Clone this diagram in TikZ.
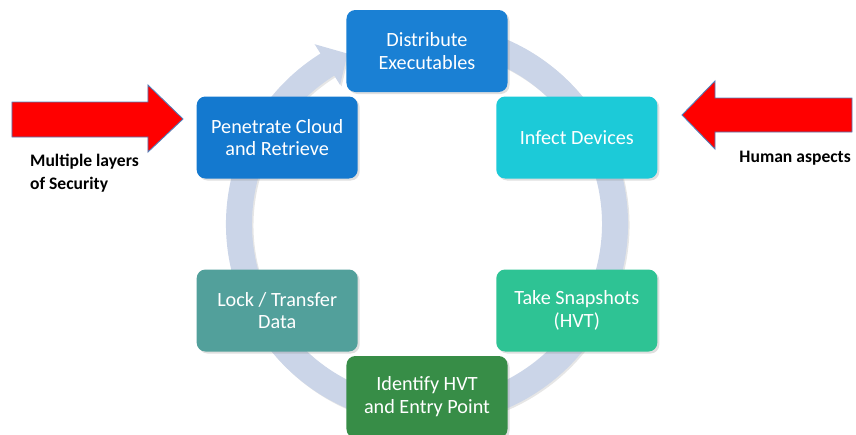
\documentclass[tikz,border=0pt]{standalone}
\usepackage{fontspec}
\setmainfont{Carlito}
\usetikzlibrary{positioning, shadows}
\definecolor{cyblue}{RGB}{26,128,212}
\definecolor{cyblue2}{RGB}{20,121,207}
\definecolor{cycyan}{RGB}{28,202,216}
\definecolor{cymint}{RGB}{46,195,148}
\definecolor{cygreen}{RGB}{55,141,71}
\definecolor{cyteal}{RGB}{82,160,155}
\definecolor{cyring}{RGB}{203,213,232}
\definecolor{cyred}{RGB}{255,0,0}
\definecolor{cyedge}{RGB}{79,129,189}
\tikzset{
  cyclebox/.style = {rounded corners=5pt, minimum width=3.22cm,
                     minimum height=1.64cm, align=center, text=white,
                     font=\fontsize{11.5}{13}\selectfont,
                     drop shadow={opacity=0.25, shadow xshift=0.04cm,
                                  shadow yshift=-0.04cm}},
  ringarr/.style  = {fill=cyring, drop shadow={opacity=0.2,
                     shadow xshift=0.03cm, shadow yshift=-0.03cm}},
  redarr/.style   = {fill=cyred, draw=cyedge, line width=0.5pt},
  sidelabel/.style = {font=\fontsize{10}{13}\selectfont\bfseries,
                      align=left},
}
\begin{document}
\begin{tikzpicture}
  \useasboundingbox (-8.54,-4.2) rectangle (8.58,4.48);
  % ring with arrow head
  \path[ringarr] (75:4.02) arc[start angle=75, end angle=-238, radius=4.02]
    -- (122:4.24) -- (115:3.76) -- (122:3.28) -- (122:3.5)
    arc[start angle=-238, end angle=75, radius=3.5] -- cycle;
  % cycle steps
  \node[cyclebox, fill=cyblue] (dist) at (90:3.46) {Distribute\\Executables};
  \node[cyclebox, fill=cycyan] (infect) at (30:3.46) {Infect Devices};
  \node[cyclebox, fill=cymint] (snap) at (-30:3.46) {Take Snapshots\\(HVT)};
  \node[cyclebox, fill=cygreen] (ident) at (-90:3.46) {Identify HVT\\and Entry Point};
  \node[cyclebox, fill=cyteal] (lock) at (210:3.46) {Lock / Transfer\\Data};
  \node[cyclebox, fill=cyblue2] (penet) at (150:3.46) {Penetrate Cloud\\and Retrieve};
  % side arrows
  \draw[redarr] (-8.3,2.44) -- (-5.58,2.44) -- (-5.58,2.78) -- (-4.88,2.1)
    -- (-5.58,1.44) -- (-5.58,1.74) -- (-8.3,1.74) -- cycle;
  \draw[redarr] (8.5,2.52) -- (5.76,2.52) -- (5.76,2.86) -- (5.1,2.18)
    -- (5.76,1.5) -- (5.76,1.84) -- (8.5,1.84) -- cycle;
  \node[sidelabel, anchor=west] (multi) at (-8.06,1.02) {Multiple layers\\of Security};
  \node[sidelabel, anchor=east] (human) at (8.6,1.32) {Human aspects};
\end{tikzpicture}
\end{document}
